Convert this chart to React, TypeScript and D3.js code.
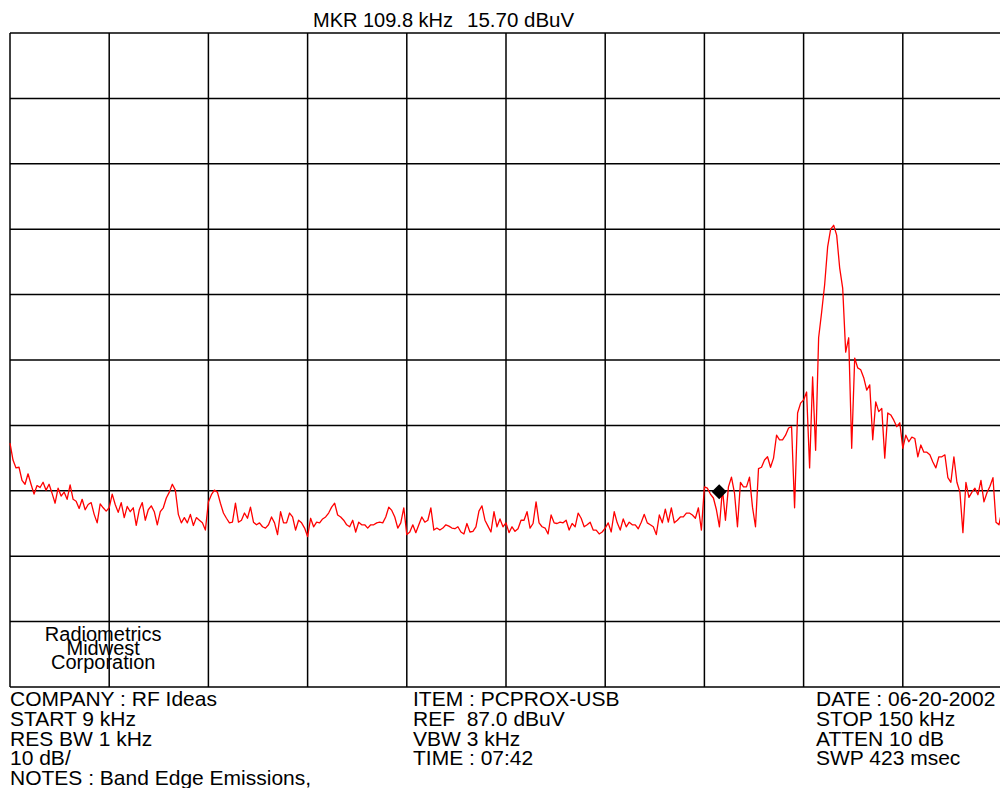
import React from "react";
import * as d3 from "d3";

// sweep settings shown on the analyzer
const START_KHZ = 9;
const STOP_KHZ = 150;
const REF_DBUV = 87;
const DB_PER_DIV = 10;
const DIVS = 10;

// trace levels (dBuV), evenly spaced sweep points from START to STOP
const levels: number[] = [
  24.3, 21.7, 20.5, 20.6, 18.6, 18.0, 19.6, 18.0, 16.5, 17.8,
  17.5, 18.3, 17.1, 18.0, 16.6, 15.1, 17.4, 16.2, 16.8, 15.7,
  17.9, 15.7, 15.4, 14.3, 15.7, 14.1, 14.9, 15.2, 13.4, 12.1,
  15.0, 14.4, 13.9, 14.4, 16.5, 14.9, 13.7, 15.2, 12.9, 14.6,
  13.8, 14.4, 11.7, 14.1, 15.2, 12.5, 14.1, 14.7, 13.8, 11.8,
  13.8, 14.4, 15.9, 16.8, 18.0, 17.1, 13.4, 12.1, 12.9, 12.1,
  13.4, 11.7, 12.9, 12.5, 12.1, 11.0,
  15.3, 16.4, 17.1, 16.8, 15.1, 13.6, 12.8, 12.1, 12.2, 15.1,
  12.2, 12.5, 13.6, 12.8, 14.5, 12.2, 11.8, 12.1, 11.5, 11.3,
  11.8, 13.0, 12.1, 10.3, 13.8, 12.1, 12.1, 13.6, 13.0, 11.0,
  12.5, 12.1, 11.3, 10.0, 12.8, 11.5, 12.2, 12.1, 12.7, 13.0,
  13.6, 14.5, 15.1, 13.3, 13.0, 12.5, 11.8, 11.5, 12.5, 10.7,
  12.2, 11.8, 11.8, 11.3, 11.8, 11.8, 12.1, 12.2, 12.1, 13.0,
  14.5, 14.0, 13.0, 11.3, 12.1, 14.4, 10.3, 10.7,
  11.8, 10.6, 11.8, 13.0, 12.2, 12.5, 14.4, 11.0, 11.3, 11.0,
  11.3, 11.8, 11.6, 11.3, 11.2, 11.5, 10.7, 10.4, 12.0, 10.7,
  10.8, 11.5, 13.9, 14.7, 12.5, 11.6, 10.7, 13.8, 11.5, 12.7,
  11.5, 12.1, 10.6, 11.5, 10.8, 11.2, 12.5, 12.5, 13.8, 11.3,
  12.0, 15.3, 12.1, 11.5, 11.3, 10.4, 13.3, 12.1, 12.0, 12.2,
  12.1, 12.5, 11.0, 12.0, 11.5, 13.6, 12.8, 11.5, 11.8, 12.2,
  11.0, 11.0, 10.4, 10.7, 11.3, 12.1,
  10.7, 13.8, 12.1, 11.0, 12.7, 11.5, 12.2, 11.8, 11.8, 11.2,
  12.2, 13.4, 12.1, 11.8, 11.5, 10.3, 13.3, 12.1, 14.2, 12.2,
  14.4, 12.1, 12.5, 13.0, 13.0, 13.6, 13.6, 13.3, 12.8, 14.4,
  11.0, 17.6, 17.4, 16.5, 15.9, 14.1, 11.5, 17.3, 12.5, 17.6,
  19.1, 16.7, 11.5, 18.3, 17.6, 17.6, 19.1, 14.5, 11.5, 20.4,
  20.6, 21.7, 22.2, 20.6, 22.0, 25.5, 24.8, 24.8, 25.5, 26.6,
  26.8, 14.4, 28.9, 30.4,
  30.9, 32.1, 20.5, 34.4, 23.2, 40.4, 44.3, 48.5, 54.3, 57.0,
  57.6, 56.1, 51.1, 48.0, 38.2, 40.4, 23.5, 37.3, 35.8, 35.5,
  34.3, 32.4, 33.2, 24.8, 30.6, 29.1, 29.6, 22.0, 28.9, 28.6,
  27.8, 26.8, 27.4, 23.5, 25.5, 24.5, 25.2, 25.0, 22.2, 24.0,
  22.9, 22.9, 22.5, 21.4, 20.5, 22.2, 22.2, 22.5, 19.0, 18.3,
  22.2, 18.3, 16.8, 10.6, 18.3, 16.0, 16.8, 17.4, 16.4, 18.6,
  15.3, 16.7, 17.7, 19.0, 12.2, 11.8, 14.1,
];

const markerKhz = 109.8;
const markerDbuv = 15.7;

const infoLeft = ["COMPANY : RF Ideas", "START 9 kHz", "RES BW 1 kHz", "10 dB/", "NOTES : Band Edge Emissions,"];
const infoMid = ["ITEM : PCPROX-USB", "REF\u00a0 87.0 dBuV", "VBW 3 kHz", "TIME : 07:42"];
const infoRight = ["DATE : 06-20-2002", "STOP 150 kHz", "ATTEN 10 dB", "SWP 423 msec"];
const logo = ["Radiometrics", "Midwest", "Corporation"];

const W = 1000;
const H = 788;
const plot = { left: 10, top: 33, width: 992, height: 654 };
const font = "'Liberation Sans', Arial, sans-serif";

export default function App() {
  const x = d3.scaleLinear().domain([START_KHZ, STOP_KHZ]).range([plot.left, plot.left + plot.width]);
  const y = d3
    .scaleLinear()
    .domain([REF_DBUV - DB_PER_DIV * DIVS, REF_DBUV])
    .range([plot.top + plot.height, plot.top]);

  const step = (STOP_KHZ - START_KHZ) / (levels.length - 1);
  const pts: [number, number][] = levels.map((v, i) => [START_KHZ + i * step, v]);
  const line = d3
    .line<[number, number]>()
    .x((d) => x(d[0]))
    .y((d) => y(d[1]));

  const xDivs = d3.range(DIVS + 1).map((k) => START_KHZ + (k * (STOP_KHZ - START_KHZ)) / DIVS);
  const yDivs = d3.range(DIVS + 1).map((k) => REF_DBUV - k * DB_PER_DIV);

  const mx = x(markerKhz);
  const my = y(markerDbuv);
  const ms = 7.5;

  const logoX = (x(xDivs[0]) + x(xDivs[2])) / 2 - 6;

  return (
    <svg
      width={W}
      height={H}
      style={{ position: "absolute", left: 0, top: 0, background: "#fff" }}
      fontFamily={font}
    >
      <rect width={W} height={H} fill="#fff" />
      <g stroke="#000" strokeWidth={1.5}>
        {xDivs.map((f, i) => (
          <line key={"v" + i} x1={x(f)} x2={x(f)} y1={y(yDivs[0])} y2={y(yDivs[DIVS])} />
        ))}
        {yDivs.map((v, i) => (
          <line key={"h" + i} x1={x(xDivs[0])} x2={x(xDivs[DIVS])} y1={y(v)} y2={y(v)} />
        ))}
      </g>
      <path d={line(pts) || ""} fill="none" stroke="#ff0000" strokeWidth={1.3} strokeLinejoin="round" />
      <path
        d={`M${mx},${my} L${mx + ms},${my - ms} L${mx},${my - 2 * ms} L${mx - ms},${my - ms} Z`}
        fill="#000"
      />
      <text x={313} y={27} fontSize={20}>{`MKR ${markerKhz} kHz`}</text>
      <text x={467} y={27} fontSize={20.5}>{`${markerDbuv.toFixed(2)} dBuV`}</text>
      <g fontSize={20} textAnchor="middle">
        {logo.map((t, i) => (
          <text key={t} x={logoX} y={641 + i * 14}>{t}</text>
        ))}
      </g>
      <g fontSize={21}>
        {infoLeft.map((t, i) => (
          <text key={t} x={10} y={706 + i * 19.8}>{t}</text>
        ))}
        {infoMid.map((t, i) => (
          <text key={t} x={413} y={706 + i * 19.8}>{t}</text>
        ))}
        {infoRight.map((t, i) => (
          <text key={t} x={816} y={706 + i * 19.8}>{t}</text>
        ))}
      </g>
    </svg>
  );
}
